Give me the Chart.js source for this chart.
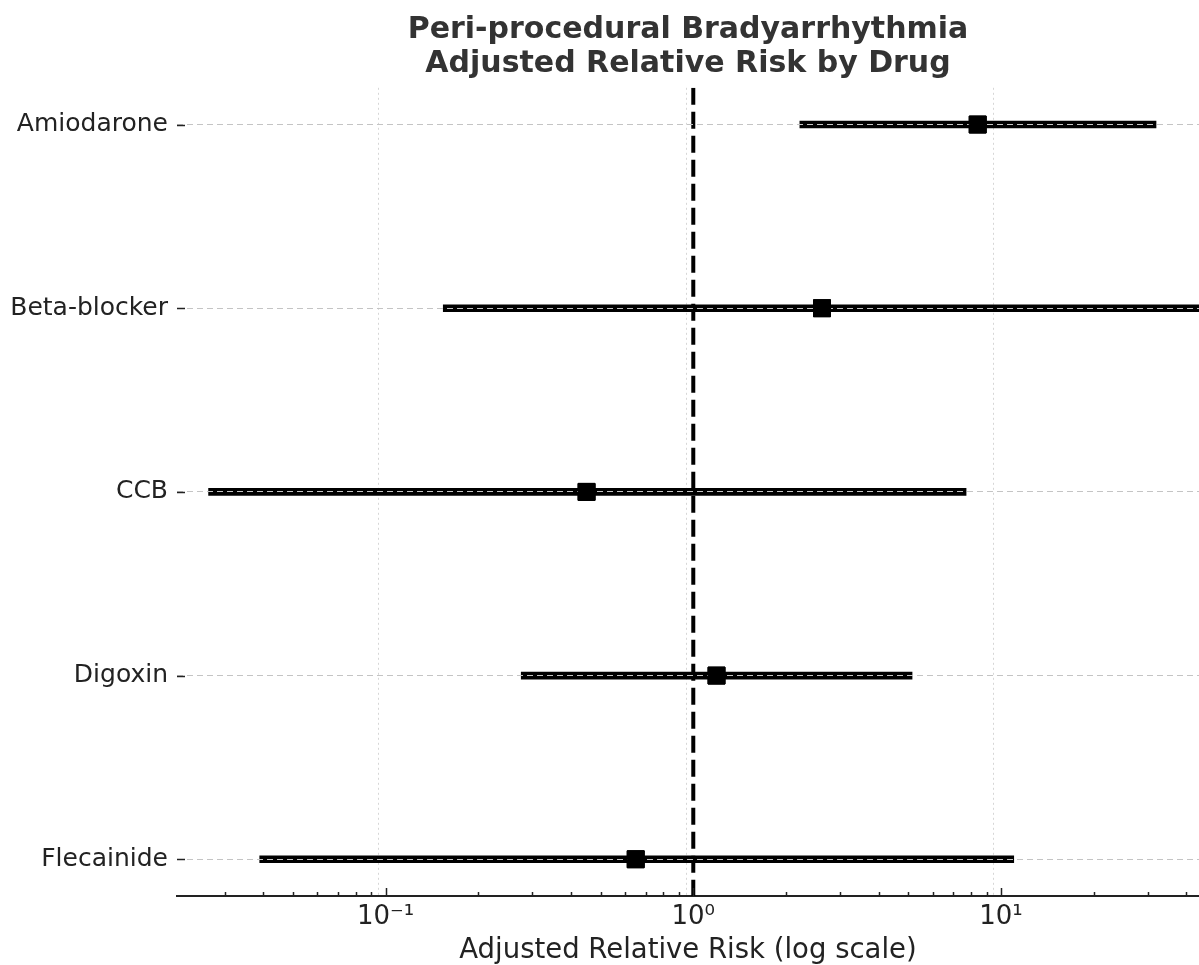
<!DOCTYPE html>
<html>
<head>
<meta charset="utf-8">
<script src="https://cdn.jsdelivr.net/npm/chart.js@4.4.1/dist/chart.umd.min.js"></script>
<style>
  html, body { margin: 0; padding: 0; background: #fff; overflow: hidden; }
  canvas { display: block; }
</style>
</head>
<body>
<canvas id="forest" width="1199" height="965"></canvas>
<script>
// drugs, top to bottom
const drugs = ["Amiodarone", "Beta-blocker", "CCB", "Digoxin", "Flecainide"];
// adjusted relative risk + 95% CI
const rr = [8.4, 2.62, 0.45, 1.19, 0.65];
const ciLow = [2.22, 0.154, 0.0266, 0.276, 0.039];
const ciHigh = [31.9, 60, 7.7, 5.14, 11.0];
// x axis
const xMin = 0.021, xMax = 44;
const decades = [0.01, 0.1, 1, 10];
const decadeLabels = ["10\u207B\u00B2", "10\u207B\u00B9", "10\u2070", "10\u00B9"];
const refValue = 1;

const FONT = "'DejaVu Sans', sans-serif";

// inward tick marks + markers on top of the gridlines
const extras = {
  id: "extras",
  afterDraw(chart) {
    const ctx = chart.ctx, area = chart.chartArea;
    const xs = chart.scales.x, ys = chart.scales.y;
    // markers above grid
    const meta = chart.getDatasetMeta(2);
    ctx.save();
    ctx.beginPath();
    ctx.rect(area.left, area.top, area.right - area.left, area.bottom - area.top);
    ctx.clip();
    meta.controller.draw();
    ctx.restore();

    ctx.save();
    ctx.strokeStyle = "#222";
    ctx.lineWidth = 1.5;
    xs.ticks.forEach(t => {
      const px = Math.round(xs.getPixelForValue(t.value)) + 0.5;
      const len = decades.includes(t.value) ? 8 : 4;
      ctx.beginPath();
      ctx.moveTo(px, area.bottom);
      ctx.lineTo(px, area.bottom - len);
      ctx.stroke();
    });
    ys.ticks.forEach(t => {
      const py = Math.round(ys.getPixelForValue(t.value)) + 0.5;
      ctx.beginPath();
      ctx.moveTo(area.left, py);
      ctx.lineTo(area.left + 8, py);
      ctx.stroke();
    });
    ctx.restore();
  }
};

new Chart(document.getElementById("forest"), {
  type: "bar",
  data: {
    datasets: [
      {
        type: "bar",
        label: "95% CI",
        indexAxis: "y",
        data: drugs.map((d, i) => ({ x: [ciLow[i], ciHigh[i]], y: i })),
        backgroundColor: "#000",
        borderWidth: 0,
        borderSkipped: false,
        barThickness: 7,
        order: 3
      },
      {
        type: "line",
        label: "RR = 1",
        data: [{ x: refValue, y: -0.2 }, { x: refValue, y: 4.2 }],
        borderColor: "#000",
        borderWidth: 4,
        borderDash: [17, 7],
        pointRadius: 0,
        fill: false,
        order: 2
      },
      {
        type: "scatter",
        label: "Adjusted RR",
        data: drugs.map((d, i) => ({ x: rr[i], y: i })),
        pointStyle: "rect",
        pointRadius: 12,
        backgroundColor: "#000",
        borderColor: "#000",
        borderWidth: 1,
        order: 1
      }
    ]
  },
  options: {
    responsive: false,
    animation: false,
    layout: { autoPadding: false, padding: 0 },
    plugins: {
      legend: { display: false },
      tooltip: { enabled: false },
      title: {
        display: true,
        fullSize: false,
        text: ["Peri-procedural Bradyarrhythmia", "Adjusted Relative Risk by Drug"],
        color: "#333",
        font: { family: FONT, size: 30, weight: "bold", lineHeight: 1.13 },
        padding: { top: 13, bottom: 7 }
      }
    },
    scales: {
      x: {
        type: "logarithmic",
        min: xMin,
        max: xMax,
        offset: false,
        afterBuildTicks(scale) {
          const vals = [];
          decades.forEach(d => {
            for (let m = 1; m <= 9; m++) {
              const v = +(d * m).toPrecision(3);
              if (v >= xMin && v <= xMax) vals.push(v);
            }
          });
          scale.ticks = vals.map(v => ({ value: v, major: decades.includes(v) }));
        },
        afterFit(scale) {
          scale.height = 69;
          scale.paddingLeft = 0;
          scale.paddingRight = 0;
        },
        border: { display: true, color: "#222", width: 2, dash: [2, 3] },
        grid: {
          drawTicks: false,
          color: c => (c.tick && decades.includes(c.tick.value)) ? "#d6d6d6" : "rgba(0,0,0,0)",
          lineWidth: 1
        },
        ticks: {
          autoSkip: false,
          maxRotation: 0,
          padding: 6,
          color: "#222",
          font: { family: FONT, size: 26 },
          callback: v => {
            const k = decades.indexOf(v);
            return k >= 0 ? decadeLabels[k] : "";
          }
        },
        title: {
          display: true,
          text: "Adjusted Relative Risk (log scale)",
          color: "#222",
          font: { family: FONT, size: 27.5, lineHeight: 1.05 },
          padding: { top: 0, bottom: 0 }
        }
      },
      y: {
        type: "linear",
        reverse: true,
        min: -0.2,
        max: 4.2,
        offset: false,
        afterBuildTicks(scale) {
          scale.ticks = drugs.map((d, i) => ({ value: i }));
        },
        afterFit(scale) {
          scale.width = 177;
          scale.paddingTop = 0;
          scale.paddingBottom = 0;
        },
        border: { display: false, dash: [6, 4] },
        grid: {
          z: 1,
          offset: false,
          drawTicks: false,
          color: "#c4c4c4",
          lineWidth: 1
        },
        ticks: {
          autoSkip: false,
          padding: 9,
          color: "#222",
          font: { family: FONT, size: 25 },
          callback: v => drugs[v] ?? ""
        }
      }
    }
  },
  plugins: [extras]
});
</script>
</body>
</html>
